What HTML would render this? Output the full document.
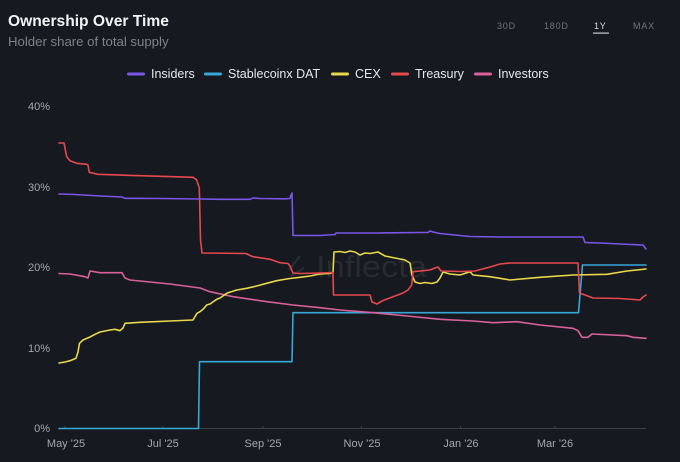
<!DOCTYPE html>
<html><head><meta charset="utf-8"><style>
html,body{margin:0;padding:0;background:#161a20;}
body{width:680px;height:462px;overflow:hidden;font-family:"Liberation Sans",sans-serif;}
</style></head><body>
<svg width="680" height="462" viewBox="0 0 680 462" xmlns="http://www.w3.org/2000/svg" style="display:block">
<rect width="680" height="462" fill="#161a20"/>
<text x="8" y="26" font-family="Liberation Sans, sans-serif" font-size="15.6" font-weight="bold" fill="#f2f3f5">Ownership Over Time</text>
<text x="8" y="46" font-family="Liberation Sans, sans-serif" font-size="13.2" fill="#7d828b">Holder share of total supply</text>
<g font-family="Liberation Sans, sans-serif" font-size="9" letter-spacing="0.8" fill="#6f747c">
<text x="497" y="29">30D</text>
<text x="544" y="29">180D</text>
<text x="594" y="29" fill="#d8dadd">1Y</text>
<text x="633" y="29">MAX</text>
</g>
<rect x="593" y="32.5" width="16" height="1.2" fill="#c8cacd"/>
<!-- legend -->
<g font-family="Liberation Sans, sans-serif" font-size="12.5" fill="#e6e7ea">
<rect x="127" y="72.5" width="18" height="3" rx="1.5" fill="#7a55e8"/><text x="151" y="78">Insiders</text>
<rect x="204" y="72.5" width="18" height="3" rx="1.5" fill="#36a8d8"/><text x="228" y="78">Stablecoinx DAT</text>
<rect x="331" y="72.5" width="18" height="3" rx="1.5" fill="#e8d84a"/><text x="355" y="78">CEX</text>
<rect x="391" y="72.5" width="18" height="3" rx="1.5" fill="#e5484d"/><text x="415" y="78">Treasury</text>
<rect x="474" y="72.5" width="18" height="3" rx="1.5" fill="#d9609a"/><text x="498" y="78">Investors</text>
</g>
<!-- y labels -->
<g font-family="Liberation Sans, sans-serif" font-size="11" fill="#a3a7ae" text-anchor="end">
<text x="50" y="110">40%</text>
<text x="50" y="191">30%</text>
<text x="50" y="271">20%</text>
<text x="50" y="352">10%</text>
<text x="50" y="432">0%</text>
</g>
<!-- axis -->
<line x1="59" y1="428.5" x2="646" y2="428.5" stroke="#3a3e46" stroke-width="1"/>
<g stroke="#3a3e46" stroke-width="1">
<line x1="65" y1="426" x2="65" y2="429"/><line x1="163" y1="426" x2="163" y2="429"/><line x1="263" y1="426" x2="263" y2="429"/>
<line x1="361.5" y1="426" x2="361.5" y2="429"/><line x1="460.5" y1="426" x2="460.5" y2="429"/><line x1="555" y1="426" x2="555" y2="429"/>
</g>
<g font-family="Liberation Sans, sans-serif" font-size="11" fill="#a3a7ae" text-anchor="middle">
<text x="66" y="447">May '25</text>
<text x="163" y="447">Jul '25</text>
<text x="263" y="447">Sep '25</text>
<text x="362" y="447">Nov '25</text>
<text x="461" y="447">Jan '26</text>
<text x="555" y="447">Mar '26</text>
</g>
<!-- watermark -->
<g fill="none" stroke="rgba(255,255,255,0.08)" stroke-width="2.5">
<path d="M300 256 L289 270 M291 276 L304 268"/>
</g>
<text x="316" y="277" font-family="Liberation Sans, sans-serif" font-size="31" fill="rgba(255,255,255,0.075)" textLength="111" lengthAdjust="spacingAndGlyphs">Inflecta</text>
<!-- series -->
<g fill="none" stroke-width="1.6" stroke-linejoin="round" stroke-linecap="round">
<polyline stroke="#36a8d8" points="59,428.5 198.5,428.5 199.5,361.7 292,361.7 293,312.7 578.5,312.7 582.5,265 646,265"/>
<polyline stroke="#d9609a" points="59,273.5 70,274 85,276.7 88,278 90,271 100,272.7 122,272.7 125,278 130,280 170,284 200,288 210,291.7 233,296.7 267,301.7 293,305 320,307.7 340,310 373,312.7 407,316 440,319.3 473,321 493,322.7 517,321.7 540,325 573,328.3 578,330.7 582,337.3 588,337.3 592,334 627,335.7 633,337.3 646,338.3"/>
<polyline stroke="#e8d84a" points="59,363 65,362 70,360.7 76,358.3 78,352 79.5,343.3 83,340 90,337 95,334.3 100,332 110,330 115,329.3 120,330.7 123,328 125,323.3 140,322.3 170,321 193,320 197,313.3 200,311.7 203,309.3 206.7,305 210,304 216.7,299.3 220,298 226.7,293.3 236.7,290 246.7,288.3 256.7,286 266.7,283.3 276.7,280.7 286.7,279 290,278.5 300,277.3 310,276 320,274 330,273.5 333,272.5 334,252 340,251.5 345,252.5 350,251 355,252 360,255 365,253 370,253.5 378,252 385,256 395,258 405,260 410,263 412,275 415,282 420,283.5 425,282.5 432,283.5 437,282 440,278 443,272 450,274 460,275 470,271.7 473,275 490,276.7 510,280 540,277.3 573,275 607,274.3 627,271 646,269"/>
<polyline stroke="#e5484d" points="59,143 64,143 66.7,156.7 70,160.7 76.7,163.3 86.7,164.3 88,165 89.3,172.3 98,174.3 140,175.7 193,177.3 196.7,180 199.3,188 200.5,240 202,253 246,253.5 250,255.5 253,256.7 270,259.3 280,262.7 288,263.5 290,266 293,273 300,273.5 320,273 333,272.5 333.5,295 370,295 372,302 377,304 383,300.5 393,296.7 403,293 408,290 411.7,285 413,271.7 430,270 435,268 438,267 441,271 460,271.5 475,271 490,267 500,264 510,263 578,263 579.5,293 585,295 593,298 620,298.5 640,300 643,297 646,295"/>
<polyline stroke="#7a55e8" points="59,194 75,194.5 100,196 122,197 125,198.3 160,198.5 200,199 220,199.3 250,199.3 253,198 260,198.5 285,198.8 290,198.5 291,195 292,193 293,235.5 320,235.5 335,234.5 336,233 380,233 420,232.5 428,232.5 430,231 433,232 440,233.5 470,236.5 500,237 583,237 585,242.5 600,243 630,244.5 643,245 646,249"/>
</g>
</svg>
</body></html>
